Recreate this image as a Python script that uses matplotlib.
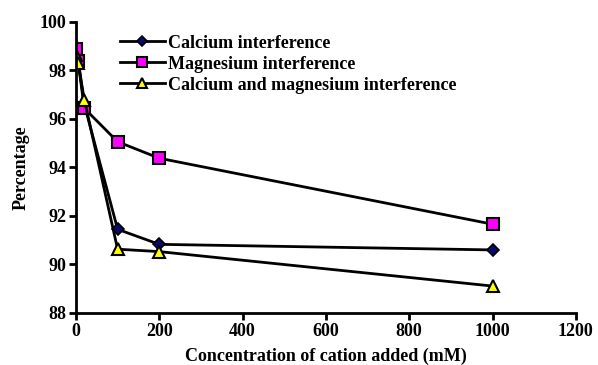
import matplotlib.pyplot as plt

# concentration of cation added (mM)
conc = [0, 5, 20, 100, 200, 1000]
calcium = [98.8, 98.5, 96.6, 91.45, 90.83, 90.6]
magnesium = [98.9, 98.4, 96.44, 95.06, 94.38, 91.66]
ca_mg = [98.65, 98.3, 96.8, 90.63, 90.53, 89.11]

plt.rcParams['font.family'] = ['Liberation Serif', 'DejaVu Serif']
plt.rcParams['font.weight'] = 'bold'

fig = plt.figure(figsize=(5.98, 3.65), dpi=100, facecolor='white')
ax = fig.add_axes([0.127, 0.1425, 0.836, 0.7975])

ax.plot(conc, calcium, color='k', lw=2, marker='D', ms=6,
        mfc='#0a0a6e', mec='k', mew=1.2, label='Calcium interference')
ax.plot(conc, magnesium, color='k', lw=2, marker='s', ms=8,
        mfc='#ff00ff', mec='k', mew=1.5, label='Magnesium interference')
ax.plot(conc, ca_mg, color='k', lw=2, marker='^', ms=8,
        mfc='#ffff00', mec='k', mew=1.5, label='Calcium and magnesium interference')

ax.set_xlim(0, 1200)
ax.set_ylim(88, 100)
ax.set_xticks(range(0, 1201, 200))
ax.set_yticks(range(88, 101, 2))
ax.spines['top'].set_visible(False)
ax.spines['right'].set_visible(False)
ax.spines['left'].set_linewidth(2)
ax.spines['bottom'].set_linewidth(2)
ax.tick_params(direction='out', length=5, width=2, labelsize=13, pad=2)

ax.set_xlabel('Concentration of cation added (mM)', fontsize=13, fontweight='bold', labelpad=6)
ax.set_ylabel('Percentage', fontsize=13, fontweight='bold', labelpad=7)

leg = ax.legend(loc='upper left', bbox_to_anchor=(0.185, 0.93), bbox_transform=fig.transFigure,
                frameon=False, fontsize=13, handlelength=2.5, handletextpad=0.2,
                labelspacing=0.22, borderpad=0, markerscale=0.85)

fig.savefig('out.png', dpi=100)
